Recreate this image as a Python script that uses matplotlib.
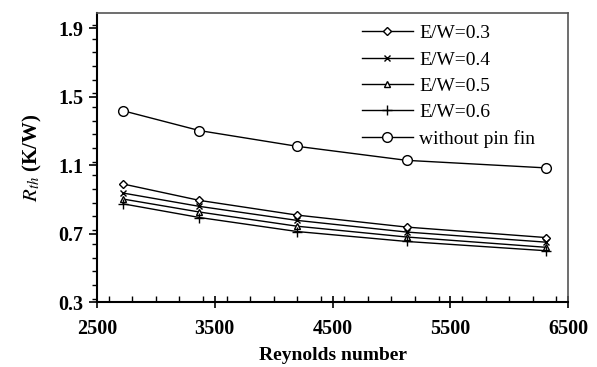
import matplotlib
matplotlib.use("Agg")
import matplotlib.pyplot as plt
from matplotlib.ticker import MultipleLocator

plt.rcParams['font.family'] = ['Liberation Serif', 'DejaVu Serif']
plt.rcParams['mathtext.fontset'] = 'stix'

reynolds = [2720, 3370, 4200, 5130, 6310]
rth_ew03 = [0.990, 0.894, 0.808, 0.738, 0.677]
rth_ew04 = [0.937, 0.859, 0.777, 0.709, 0.650]
rth_ew05 = [0.902, 0.826, 0.743, 0.680, 0.620]
rth_ew06 = [0.874, 0.794, 0.712, 0.654, 0.600]
rth_no_fin = [1.418, 1.302, 1.210, 1.128, 1.084]
x_ticks = [2500, 3500, 4500, 5500, 6500]
y_ticks = [0.3, 0.7, 1.1, 1.5, 1.9]

series = [
    ("E/W=0.3", rth_ew03, dict(marker='D', markersize=4.5, markerfacecolor='white')),
    ("E/W=0.4", rth_ew04, dict(marker='x', markersize=5)),
    ("E/W=0.5", rth_ew05, dict(marker='^', markersize=5, markerfacecolor='white')),
    ("E/W=0.6", rth_ew06, dict(marker='+', markersize=7)),
    ("without pin fin", rth_no_fin, dict(marker='o', markersize=7, markerfacecolor='white')),
]

fig = plt.figure(figsize=(5.97, 3.67), dpi=100)
ax = fig.add_axes([0.1625, 0.177, 0.789, 0.788])

for label, vals, style in series:
    ax.plot(reynolds, vals, color='black', lw=1.0, markeredgecolor='black',
            markeredgewidth=1.0, label=label, **style)

ax.set_xlim(2500, 6500)
ax.set_ylim(0.3, 1.99)
ax.set_xticks(x_ticks)
ax.xaxis.set_minor_locator(MultipleLocator(200))
ax.set_yticks(y_ticks)
ax.yaxis.set_minor_locator(MultipleLocator(0.08))

ax.tick_params(axis='x', which='major', direction='inout', length=8, width=1.2, pad=8)
ax.tick_params(axis='x', which='minor', direction='in', length=4, width=1.0)
ax.tick_params(axis='y', which='major', direction='out', length=6, width=1.2, pad=4)
ax.tick_params(axis='y', which='minor', direction='out', length=3.5, width=1.0)
ax.tick_params(labelsize=14.5)
for lbl in ax.get_xticklabels() + ax.get_yticklabels():
    lbl.set_fontweight('bold')

for side in ['left', 'bottom']:
    ax.spines[side].set_linewidth(1.5)
for side in ['top', 'right']:
    ax.spines[side].set_linewidth(1.2)
    ax.spines[side].set_color('#555555')

ax.set_xlabel("Reynolds number", fontsize=14, fontweight='bold', labelpad=6)
ax.set_ylabel("$R_{th}$ (K/W)", fontsize=15, fontweight='bold', labelpad=10)

ax.legend(loc='upper right', bbox_to_anchor=(0.968, 1.02), frameon=False,
          fontsize=14, handlelength=2.6, labelspacing=0.45, handletextpad=0.35)

fig.savefig("out.png", dpi=100)
